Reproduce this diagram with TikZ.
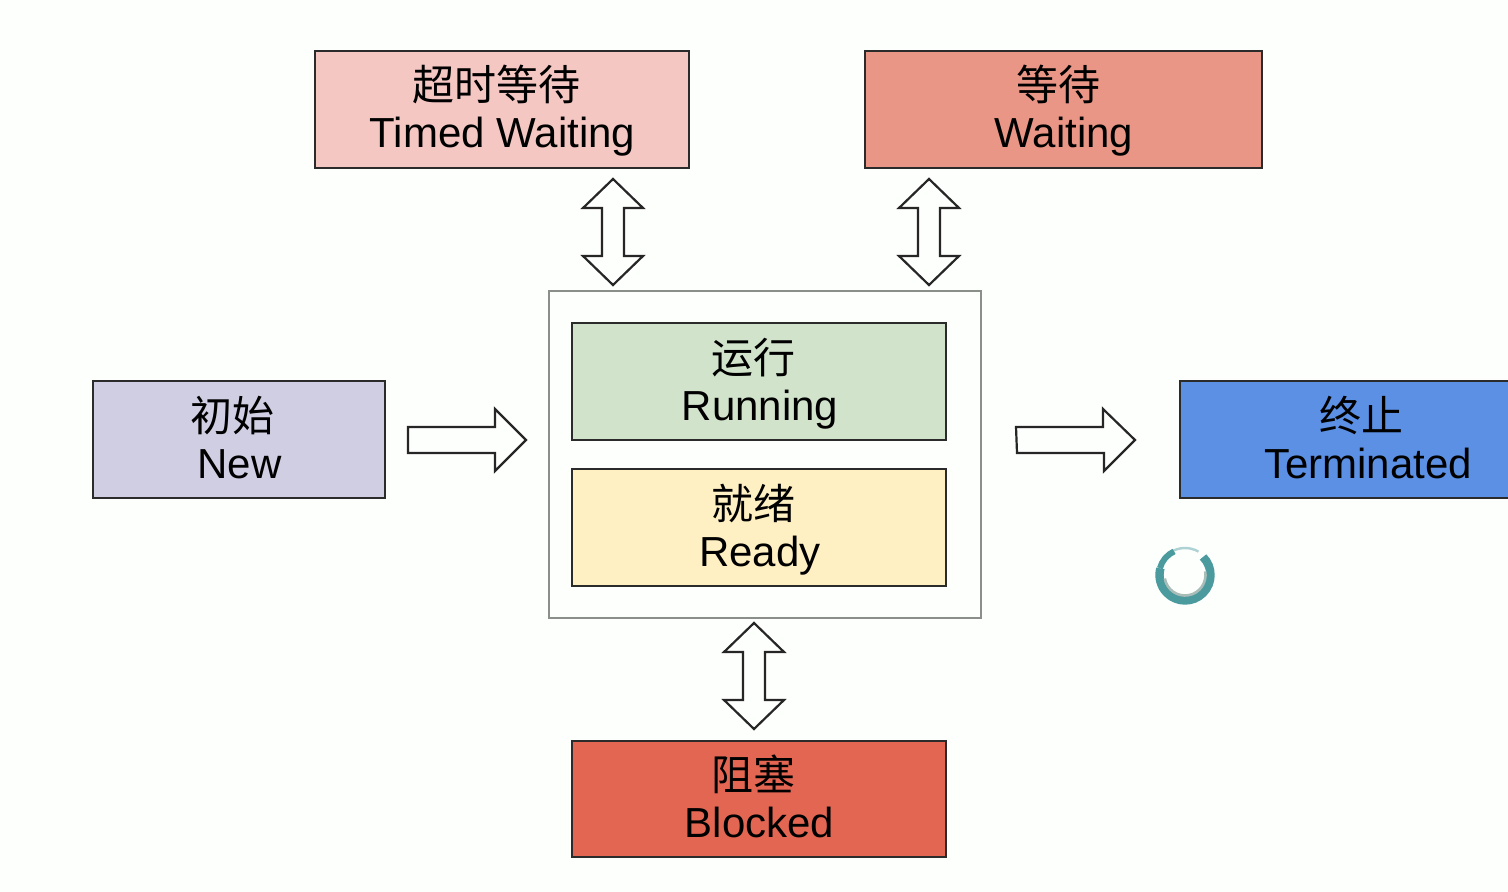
\documentclass[tikz,border=0pt]{standalone}
\usepackage{fontspec}
\setmainfont{Liberation Sans}
\newfontfamily\cjk{Noto Sans CJK SC}
\definecolor{bgc}{HTML}{FDFFFC}
\definecolor{linec}{HTML}{2B2B2B}
\definecolor{timedc}{HTML}{F4C7C3}
\definecolor{waitc}{HTML}{EA9686}
\definecolor{newc}{HTML}{D0CEE3}
\definecolor{termc}{HTML}{5B90E4}
\definecolor{runc}{HTML}{D1E3CB}
\definecolor{readyc}{HTML}{FFF0C3}
\definecolor{blockc}{HTML}{E36653}
\definecolor{outerc}{HTML}{8A8F8A}
\definecolor{ringc}{HTML}{4A9A9E}
\definecolor{ringg}{HTML}{A9BDB8}
\tikzset{
  x=0.5pt,y=-0.5pt,
  box/.style={draw=linec,line width=1.1pt},
  zh/.style={anchor=base,inner sep=0pt,font=\fontsize{21pt}{21pt}\selectfont\cjk,text=black},
  en/.style={anchor=base,inner sep=0pt,font=\fontsize{21pt}{21pt}\selectfont,text=black},
  blockarrow/.style={draw=black!85,line width=1.1pt,fill=bgc,line join=miter},
}
\newcommand{\updown}[2]{%
  \draw[blockarrow] (#1) -- ++(30,29) -- ++(-19,0) -- ++(0,48) -- ++(19,0)
    -- (#2) -- ++(-30,-29) -- ++(19,0) -- ++(0,-48) -- ++(-19,0) -- cycle;}
\newcommand{\rightarr}[2]{%
  \draw[blockarrow] (#1) ++(0,-13) -- ++(87,0) -- ++(0,-18) -- (#2) -- ++(-31,31) -- ++(0,-18) -- ++(-87,0) -- cycle;}
\begin{document}
\begin{tikzpicture}
\useasboundingbox (0,0) rectangle (1508,892);
\fill[bgc] (0,0) rectangle (1508,892);
% boxes
\draw[box,fill=timedc] (315,51) rectangle (689,168);
\draw[box,fill=waitc] (865,51) rectangle (1262,168);
\draw[box,fill=newc] (93,381) rectangle (385,498);
\draw[box,fill=termc] (1180,381) rectangle (1515,498);
\draw[draw=outerc,line width=1pt,fill=bgc] (549,291) rectangle (981,618);
\draw[box,fill=runc] (572,323) rectangle (946,440);
\draw[box,fill=readyc] (572,469) rectangle (946,586);
\draw[box,fill=blockc] (572,741) rectangle (946,857);
% labels
\node[zh] (timedzh) at (496,101) {超时等待};
\node[en] (timeden) at (502.5,148) {Timed Waiting};
\node[zh] (waitzh) at (1058,101) {等待};
\node[en] (waiten) at (1064,148) {Waiting};
\node[zh] (newzh) at (232.5,432) {初始};
\node[en] (newen) at (239.5,479) {New};
\node[zh] (termzh) at (1361,432) {终止};
\node[en] (termen) at (1368,479) {Terminated};
\node[zh] (runzh) at (753.5,374) {运行};
\node[en] (runen) at (760,421) {Running};
\node[zh] (readyzh) at (753.5,519) {就绪};
\node[en] (readyen) at (760,566) {Ready};
\node[zh] (blockzh) at (753.5,790) {阻塞};
\node[en] (blocken) at (759.5,837) {Blocked};
% block arrows
\coordinate (a1t) at (613,179); \coordinate (a1b) at (613,285);
\coordinate (a2t) at (929,179); \coordinate (a2b) at (929,285);
\coordinate (a3t) at (754,623); \coordinate (a3b) at (754,729);
\updown{a1t}{a1b}
\updown{a2t}{a2b}
\updown{a3t}{a3b}
\coordinate (r1s) at (408,440); \coordinate (r1e) at (526,440);
\coordinate (r2s) at (1016,440); \coordinate (r2e) at (1135,440);
\rightarr{r1s}{r1e}
\rightarr{r2s}{r2e}
% ring (y axis points down, so angles run clockwise on the page)
\coordinate (ring) at (1185,575);
\draw[ringc!45!white,line width=1.2pt] (ring) ++(-60:27) arc[start angle=-60,end angle=-125,radius=27];
\draw[ringc,line width=4.2pt] (ring) ++(-45:25.5) arc[start angle=-45,end angle=195,radius=25.5];
\draw[ringc,line width=3pt] (ring) ++(195:26) arc[start angle=195,end angle=245,radius=26];
\draw[ringg,line width=1.3pt] (ring) ++(-10:20.5) arc[start angle=-10,end angle=170,radius=20.5];
\end{tikzpicture}
\end{document}
